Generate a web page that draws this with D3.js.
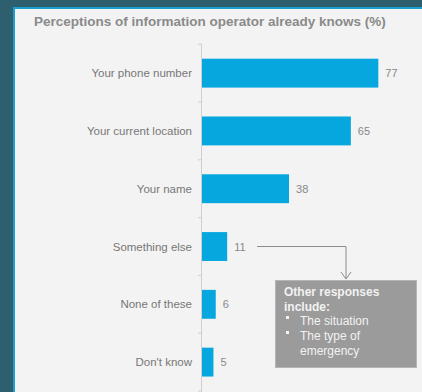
<!DOCTYPE html>
<html>
<head>
<meta charset="utf-8">
<script src="https://cdn.jsdelivr.net/npm/d3@7"></script>
<style>
  body { margin: 0; background: #2d5f6e; }
  svg { display: block; }
</style>
</head>
<body>
<div id="chart"></div>
<script>
// chart data
var categories = ["Your phone number", "Your current location", "Your name",
                  "Something else", "None of these", "Don't know"];
var values = [77, 65, 38, 11, 6, 5];
var noteLines = ["Other responses", "include:"];
var noteBullets = ["The situation", "The type of", "emergency"];

var width = 422, height = 392;

var svg = d3.select("#chart").append("svg")
    .attr("width", width)
    .attr("height", height);

// background + panel
svg.append("rect").attr("width", width).attr("height", height).attr("fill", "#2d5f6e");
svg.append("rect")
    .attr("x", 13).attr("y", 7)
    .attr("width", width - 13).attr("height", height - 7)
    .attr("fill", "#1a9fd0");
svg.append("rect")
    .attr("x", 15).attr("y", 9)
    .attr("width", width - 15).attr("height", height - 9)
    .attr("fill", "#f3f3f3");

svg.append("text")
    .attr("x", 34).attr("y", 26)
    .text("Perceptions of information operator already knows (%)")
    .attr("font-family", "Liberation Sans, Arial, sans-serif")
    .attr("font-size", "13.5px")
    .attr("font-weight", "bold")
    .attr("fill", "#8a8a8a");

var x = d3.scaleLinear().domain([0, 100]).range([201, 430]);
var y = d3.scaleBand().domain(categories).range([44.25, 391]).paddingInner(0.5).paddingOuter(0.25);

// axis line and band ticks
svg.append("line")
    .attr("x1", 201.5).attr("x2", 201.5)
    .attr("y1", 44).attr("y2", height)
    .attr("stroke", "#cfcfcf");
var step = y.step();
d3.range(categories.length + 1).forEach(function(i){
    var ty = 44.25 + i * step;
    svg.append("line")
        .attr("x1", 198).attr("x2", 201.5)
        .attr("y1", ty).attr("y2", ty)
        .attr("stroke", "#cfcfcf");
});

// bars
svg.selectAll(".bar").data(values).enter().append("rect")
    .attr("class", "bar")
    .attr("x", x(0) + 1)
    .attr("y", function(d, i){ return y(categories[i]); })
    .attr("width", function(d){ return x(d) - x(0); })
    .attr("height", y.bandwidth())
    .attr("fill", "#06a7de");

// category labels
svg.selectAll(".cat").data(categories).enter().append("text")
    .attr("x", 192)
    .attr("y", function(d){ return y(d) + y.bandwidth() / 2 + 4; })
    .attr("text-anchor", "end")
    .text(function(d){ return d; })
    .attr("font-family", "Liberation Sans, Arial, sans-serif")
    .attr("font-size", "11.5px")
    .attr("fill", "#777");

// value labels
svg.selectAll(".val").data(values).enter().append("text")
    .attr("x", function(d){ return x(d) + 8; })
    .attr("y", function(d, i){ return y(categories[i]) + y.bandwidth() / 2 + 4; })
    .text(function(d){ return d; })
    .attr("font-family", "Liberation Sans, Arial, sans-serif")
    .attr("font-size", "11px")
    .attr("fill", "#888");

// annotation connector
var ay = y("Something else") + y.bandwidth() / 2;
svg.append("path")
    .attr("d", "M257," + ay + " H346 V279")
    .attr("fill", "none")
    .attr("stroke", "#8c8c8c")
    .attr("stroke-width", 1);
svg.append("path")
    .attr("d", "M341,272 L346,279 L351,272")
    .attr("fill", "none")
    .attr("stroke", "#8c8c8c")
    .attr("stroke-width", 1);

// annotation box
svg.append("rect")
    .attr("x", 275.5).attr("y", 280.5)
    .attr("width", 141).attr("height", 87)
    .attr("fill", "#9b9b9b")
    .attr("stroke", "#b5b5b5");

noteLines.forEach(function(t, i){
    svg.append("text")
        .attr("x", 284).attr("y", 296 + i * 15)
        .text(t)
        .attr("font-family", "Liberation Sans, Arial, sans-serif")
        .attr("font-size", "12px")
        .attr("font-weight", "bold")
        .attr("fill", "#f2f2f2");
});
noteBullets.forEach(function(t, i){
    if (i < 2) {
        svg.append("rect")
            .attr("x", 286).attr("y", 319 + i * 15 - 3)
            .attr("width", 3).attr("height", 3)
            .attr("fill", "#f2f2f2");
    }
    svg.append("text")
        .attr("x", 300).attr("y", 325 + i * 15)
        .text(t)
        .attr("font-family", "Liberation Sans, Arial, sans-serif")
        .attr("font-size", "12px")
        .attr("fill", "#f2f2f2");
});
</script>
</body>
</html>
